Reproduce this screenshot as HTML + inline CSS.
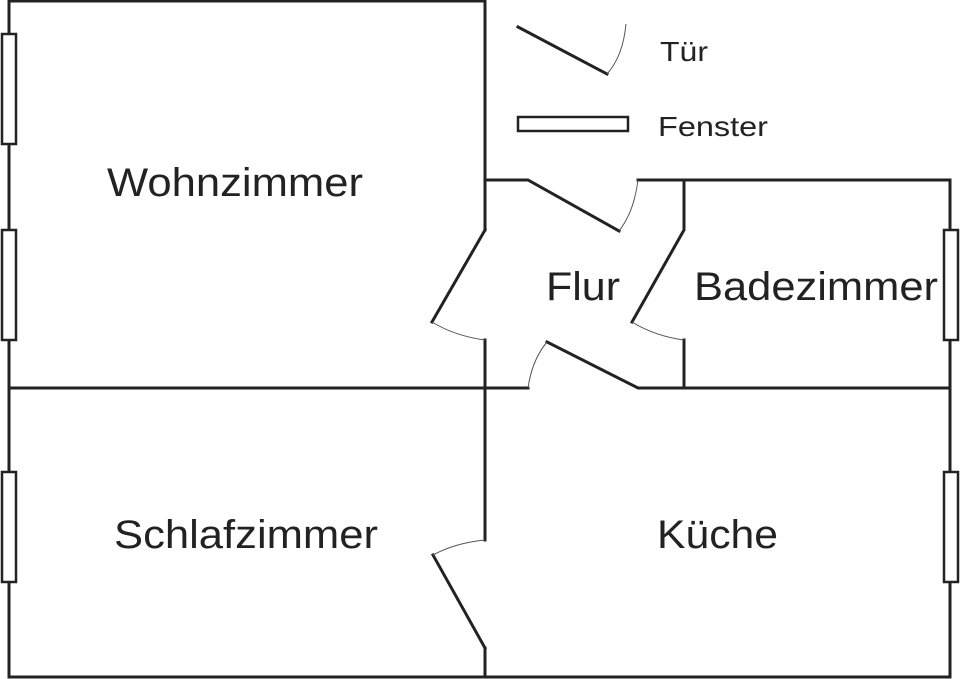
<!DOCTYPE html>
<html><head><meta charset="utf-8"><style>
html,body{margin:0;padding:0;background:#fff;}
svg{display:block;}
text{font-family:"Liberation Sans",sans-serif;fill:#222;}
</style></head><body>
<svg width="960" height="679" viewBox="0 0 960 679">
<g stroke="#222" stroke-width="3" fill="none" stroke-linecap="square">
<path d="M9,677 V1 H485 V230"/>
<path d="M485,230 L432,322"/>
<path d="M485,340 V388"/>
<path d="M485,180 H528 L619,231"/>
<path d="M638,180 H950 V677 H9"/>
<path d="M684,180 V230 L632,322"/>
<path d="M684,340 V388"/>
<path d="M9,388 H528"/>
<path d="M547,342 L638,388 H950"/>
<path d="M485,388 V540"/>
<path d="M485,648 L433,555"/>
<path d="M485,648 V677"/>
<path d="M518,27 L607,74"/>
</g>
<g stroke="#555" stroke-width="1" fill="none">
<path d="M432,322 Q455,336 485,340"/>
<path d="M619,231 Q634,212 638,180"/>
<path d="M632,322 Q655,336 684,340"/>
<path d="M528,388 Q532,360 547,342"/>
<path d="M433,555 Q455,543 485,540"/>
<path d="M607,74 Q623,56 626,24"/>
</g>
<g stroke="#222" stroke-width="2.5" fill="#fff">
<rect x="2" y="34" width="14" height="110"/>
<rect x="2" y="230" width="14" height="110"/>
<rect x="2" y="472" width="14" height="110"/>
<rect x="944" y="230" width="14" height="110"/>
<rect x="944" y="472" width="14" height="110"/>
<rect x="518" y="117" width="110" height="14"/>
</g>
<g font-size="40" lengthAdjust="spacingAndGlyphs">
<text x="107" y="196" textLength="256" lengthAdjust="spacingAndGlyphs">Wohnzimmer</text>
<text x="546" y="300" textLength="74" lengthAdjust="spacingAndGlyphs">Flur</text>
<text x="694" y="300" textLength="244" lengthAdjust="spacingAndGlyphs">Badezimmer</text>
<text x="114" y="548" textLength="264" lengthAdjust="spacingAndGlyphs">Schlafzimmer</text>
<text x="657" y="548" textLength="121" lengthAdjust="spacingAndGlyphs">Küche</text>
</g>
<text x="660" y="61" font-size="28" textLength="48" lengthAdjust="spacingAndGlyphs">Tür</text>
<text x="658" y="136" font-size="28" textLength="110" lengthAdjust="spacingAndGlyphs">Fenster</text>
</svg>
</body></html>
